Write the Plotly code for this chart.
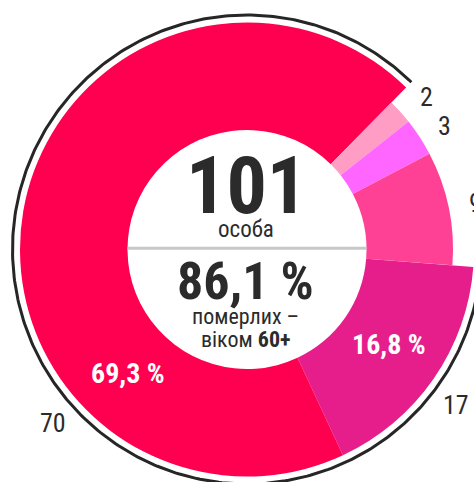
import plotly.graph_objects as go
import numpy as np

# ---- data ----
groups = ["до 40", "40-49", "50-59", "60-69", "70+"]
counts = [2, 3, 9, 17, 70]
older = [False, False, False, True, True]   # 60+
total_label = "101"
total_word = "особа"
share_label_top = "померлих –"
share_label_bottom = "віком <b>60+</b>"

colors = ["#ff9dc4", "#ff66ff", "#ff4196", "#e61e8c", "#ff0050"]

W, H = 474, 482
CX, CY = 247, 249.5          # pixel centre of the ring
R_OUT, R_IN, R_YOUNG, R_ARC = 227, 119.5, 206, 234.5
ROT = 44.5

total = sum(counts)
fmt = lambda v: f"{v:.1f}".replace(".", ",") + " %"

FONT = "Liberation Sans Narrow, Roboto Condensed, DejaVu Sans Condensed, Arial Narrow, Roboto, sans-serif"
DARK = "#2b2b2b"


def dom(r):
    cy_b = H - CY
    return dict(x=[(CX - r) / W, min(1, (CX + r) / W)],
                y=[(cy_b - r) / H, (cy_b + r) / H])


fig = go.Figure()

# outer ring: 60+ groups
fig.add_trace(go.Pie(
    labels=groups, values=counts, sort=False, direction="clockwise", rotation=ROT,
    hole=R_IN / R_OUT, domain=dom(R_OUT), textinfo="none", hoverinfo="skip",
    marker=dict(colors=[c if o else "rgba(0,0,0,0)" for c, o in zip(colors, older)],
                line=dict(width=0)),
    showlegend=False))

# inner (narrower) ring: younger groups
fig.add_trace(go.Pie(
    labels=groups, values=counts, sort=False, direction="clockwise", rotation=ROT,
    hole=R_IN / R_YOUNG, domain=dom(R_YOUNG), textinfo="none", hoverinfo="skip",
    marker=dict(colors=["rgba(0,0,0,0)" if o else c for c, o in zip(colors, older)],
                line=dict(width=0)),
    showlegend=False))

# black arc around the 60+ groups
cum = np.cumsum([0] + counts)
start_idx = older.index(True)
a0 = ROT + cum[start_idx] / total * 360
a1 = ROT + 360
th = np.radians(np.linspace(a0, a1, 400))
fig.add_trace(go.Scatter(x=R_ARC * np.sin(th), y=R_ARC * np.cos(th), mode="lines",
                         line=dict(color="#262626", width=3), hoverinfo="skip",
                         showlegend=False))

fig.update_xaxes(range=[-CX, W - CX], visible=False, fixedrange=True)
fig.update_yaxes(range=[-(H - CY), CY], visible=False, fixedrange=True)

# separator line in the hole
fig.add_shape(type="line", x0=-R_IN, x1=R_IN, y0=1.2, y1=1.2, xref="x", yref="y",
              line=dict(color="#c8c8c8", width=3), layer="above")


def ann(px, py, text, size, color=DARK, xanchor="center"):
    fig.add_annotation(x=px - CX, y=CY - py, xref="x", yref="y", text=text,
                       showarrow=False, xanchor=xanchor, yanchor="middle",
                       font=dict(family=FONT, size=size, color=color))


older_sum = sum(c for c, o in zip(counts, older) if o)
ann(246, 186, f"<b>{total_label}</b>", 80)
ann(246, 229, total_word, 23)
ann(245, 281, f"<b>{fmt(older_sum / total * 100)}</b>", 52)
ann(245, 316, share_label_top, 22)
ann(245, 339, share_label_bottom, 22)

# percentage labels inside the ring
ann(128, 373, f"<b>{fmt(counts[4] / total * 100)}</b>", 28, color="white")
ann(389, 344, f"<b>{fmt(counts[3] / total * 100)}</b>", 28, color="white")

# count labels outside the ring
ann(426, 97, str(counts[0]), 26)
ann(444, 126, str(counts[1]), 26)
ann(467, 203, str(counts[2]), 26, xanchor="left")
ann(455.5, 405, str(counts[3]), 26)
ann(52.5, 423, str(counts[4]), 26)

fig.update_layout(width=W, height=H, margin=dict(l=0, r=0, t=0, b=0),
                  paper_bgcolor="white", plot_bgcolor="white", showlegend=False)

fig.write_html("out.html", config={"displayModeBar": False, "staticPlot": True},
               post_script="document.body.style.margin='0';document.body.style.overflow='hidden';")
